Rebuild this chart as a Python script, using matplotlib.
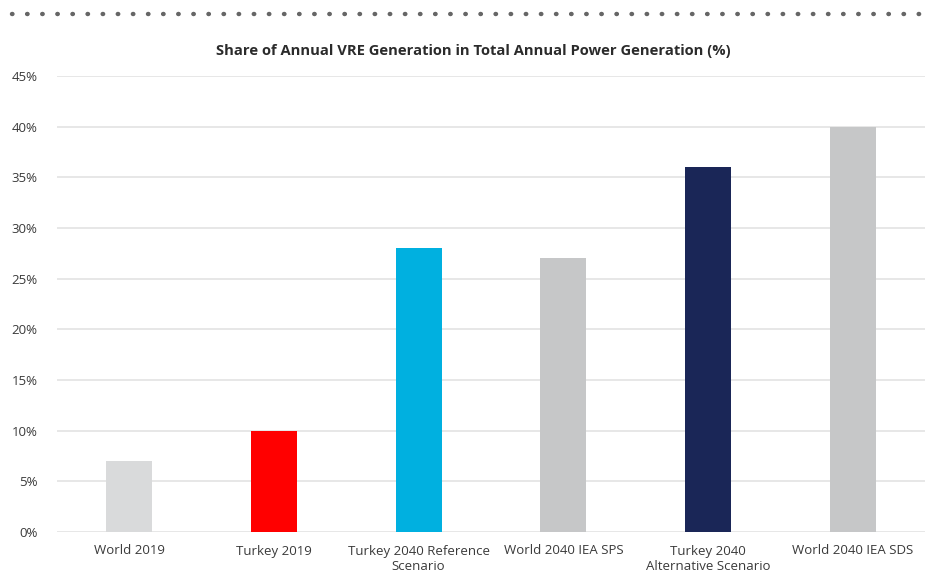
import matplotlib.pyplot as plt
from matplotlib.lines import Line2D
from matplotlib.ticker import MultipleLocator, FuncFormatter

categories = ['World 2019', 'Turkey 2019', 'Turkey 2040 Reference\nScenario',
              'World 2040 IEA SPS', 'Turkey 2040\nAlternative Scenario', 'World 2040 IEA SDS']
shares = [7, 10, 28, 27, 36, 40]
bar_colors = ['#D9DADB', '#FF0000', '#00B0E0', '#C6C7C8', '#1A2657', '#C6C7C8']

plt.rcParams['font.family'] = ['Open Sans', 'DejaVu Sans']

fig = plt.figure(figsize=(9.28, 5.72), dpi=100)
ax = fig.add_axes([57/928, 40/572, 868/928, 456/572])

x = range(len(categories))
ax.bar(x, shares, width=0.32, color=bar_colors, zorder=3)

ax.set_xlim(-0.5, len(categories) - 0.5)
ax.set_ylim(0, 45)
ax.yaxis.set_major_locator(MultipleLocator(5))
ax.yaxis.set_major_formatter(FuncFormatter(lambda v, p: f'{v:.0f}%'))
ax.grid(axis='y', color='#E3E3E3', linewidth=1.2, zorder=0)
ax.set_xticks(list(x))
ax.set_xticklabels(categories, fontsize=9.5, color='#3A3A3A', linespacing=1.3)
ax.tick_params(axis='both', length=0, labelsize=9.5, labelcolor='#3A3A3A')
ax.tick_params(axis='x', pad=9)
ax.tick_params(axis='y', pad=14)
for s in ax.spines.values():
    s.set_visible(False)

fig.text(473/928, 1 - 51/572, 'Share of Annual VRE Generation in Total Annual Power Generation (%)',
         ha='center', va='center', fontsize=10.6, fontweight='bold', color='#2B2B2B')

# dotted rule at the top
fig.add_artist(Line2D([12/928, 925/928], [1 - 14/572, 1 - 14/572], transform=fig.transFigure,
                      linestyle=(0, (0.1, 3.3)), linewidth=3.2, color='#666666',
                      dash_capstyle='round', solid_capstyle='round'))

fig.savefig('out.png', dpi=100)
